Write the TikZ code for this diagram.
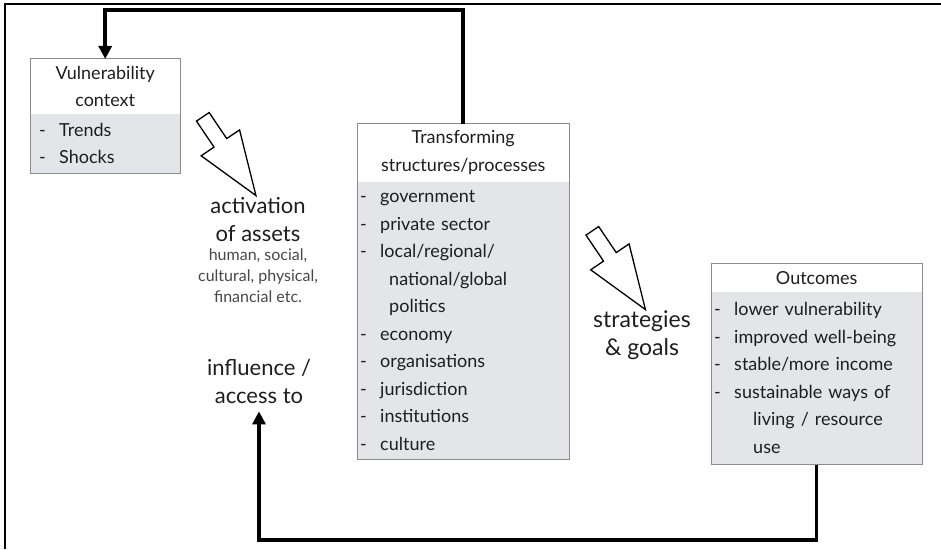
\documentclass[tikz,border=0pt]{standalone}
\usepackage{fontspec}
\setmainfont{Lato}
\usetikzlibrary{positioning,arrows.meta,shapes.arrows}
\definecolor{boxgray}{HTML}{E4E5E8}
\definecolor{boxline}{HTML}{8C8C8C}
\definecolor{txt}{HTML}{1E1E1E}
\newcommand{\boxfont}{\fontsize{18}{27.5}\selectfont}
\newcommand{\lblfont}{\fontsize{22}{28}\selectfont}
\newcommand{\dash}{\makebox[20pt][l]{-}}
\begin{document}
\begin{tikzpicture}[x=1pt, y=1pt,
  head/.style = {fill=white, align=center, inner sep=0pt, anchor=north west,
    font=\boxfont, text=txt},
  body/.style = {fill=boxgray, align=left, inner xsep=3pt, inner ysep=0pt,
    font=\boxfont, text=txt, below=0pt of #1},
  frame/.style = {draw=boxline, line width=1pt},
  lbl/.style = {align=center, inner sep=0pt, font=\lblfont, text=txt},
  flow/.style = {line width=3.5pt, -{Triangle[length=13pt, width=13pt]}},
  hollow/.style = {single arrow, draw, line width=1.3pt, fill=white,
    minimum height=95pt, minimum width=45pt, inner xsep=0pt, inner ysep=7pt,
    single arrow head extend=15.5pt, single arrow tip angle=40, rotate=-56}]
  \useasboundingbox (0,0) rectangle (941,549);
  \draw[line width=1.2pt] (5,0) -- (5,545) -- (941,545);

  \node[head, minimum width=150pt, minimum height=54pt] (vhead) at (30,490)
    {Vulnerability\\context};
  \node[body=vhead, text width=132pt, inner xsep=9pt, minimum height=60pt] (vbody)
    {\dash Trends\\\dash Shocks};
  \draw[frame] (vhead.north west) rectangle (vbody.south east);

  \node[head, minimum width=212pt, minimum height=57pt] (thead) at (357,425)
    {Transforming\\structures/processes};
  \node[body=thead, text width=206pt, minimum height=278pt] (tbody)
    {\dash government\\\dash private sector\\\dash local/regional/\\
     \hspace*{29pt}national/global\\\hspace*{29pt}politics\\\dash economy\\
     \dash organisations\\\dash jurisdiction\\\dash institutions\\\dash culture};
  \draw[frame] (thead.north west) rectangle (tbody.south east);

  \node[head, minimum width=211pt, minimum height=27pt] (ohead) at (711,285)
    {Outcomes};
  \node[body=ohead, text width=205pt, minimum height=173pt] (obody)
    {\dash lower vulnerability\\\dash improved well-being\\
     \dash stable/more income\\\dash sustainable ways of\\
     \hspace*{39pt}living / resource\\\hspace*{39pt}use};
  \draw[frame] (ohead.north west) rectangle (obody.south east);

  \node[hollow] (actarrow) at (223.5,401.5) {};
  \node[hollow] (stratarrow) at (613,287.5) {};

  \node[lbl] (activation) at (258,329) {activation\\of assets};
  \node[lbl, font=\fontsize{16}{21}\selectfont, text=black!72] (kinds) at (258,273)
    {human, social,\\cultural, physical,\\financial etc.};
  \node[lbl] (access) at (259,168) {influence /\\access to};
  \node[lbl, font=\fontsize{23}{28}\selectfont] (strategies) at (642,214)
    {strategies\\\& goals};

  \coordinate (topline) at (0,539);
  \coordinate (botline) at (0,9);
  \draw[flow] (thead.north) -- (thead.north |- topline) -| (vhead.north);
  \draw[flow, shorten >=8pt] (obody.south) -- (obody.south |- botline) -| (access.south);
\end{tikzpicture}
\end{document}
